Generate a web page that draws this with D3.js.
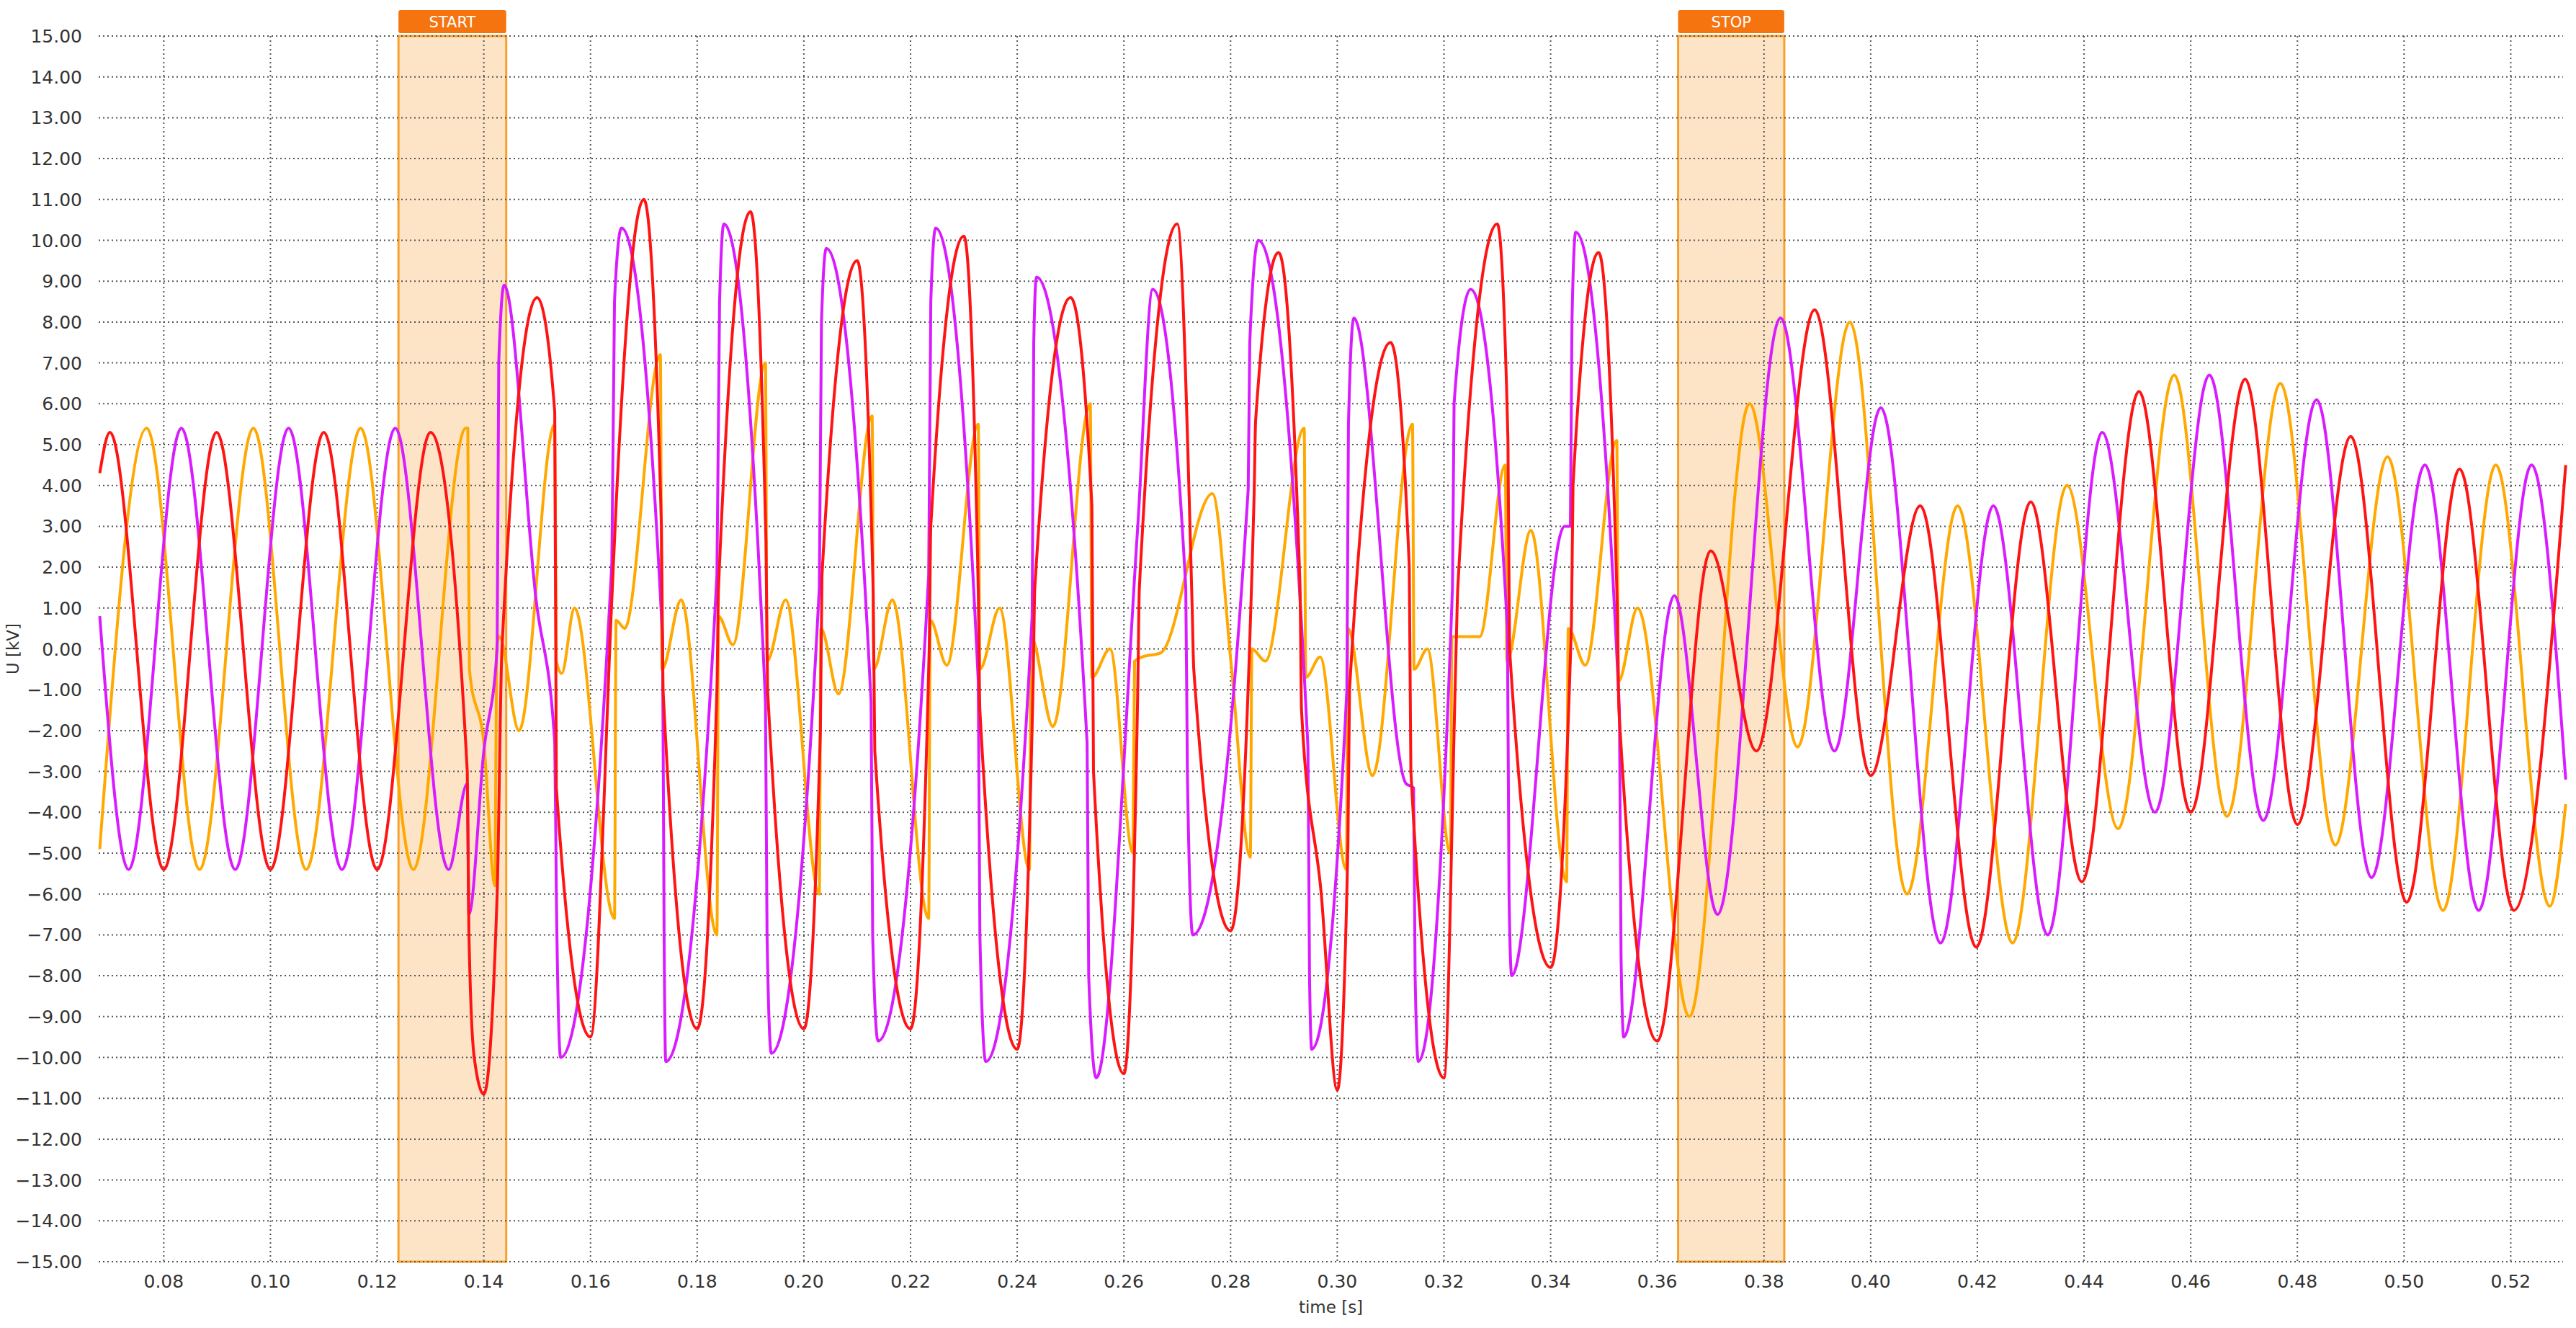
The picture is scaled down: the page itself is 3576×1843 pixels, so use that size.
<!DOCTYPE html>
<html>
<head>
<meta charset="utf-8">
<script src="https://cdn.jsdelivr.net/npm/d3@7"></script>
<style>
  body { margin: 0; background: #fff; }
  text { font-family: "DejaVu Sans", Verdana, sans-serif; fill: #333; }
</style>
</head>
<body>
<div class="chart"></div>
<script>
// phase voltages, [time s, kV]
var phaseRed = [
	[0.068, 4.3], [0.0699, 5.3], [0.08, -5.4], [0.0899, 5.3], [0.10, -5.4], [0.110, 5.3], [0.120, -5.4], [0.130, 5.3],
	[0.1369, -3.0], [0.1372, -6.9], [0.1382, -10.0], [0.14, -10.9], [0.1425, -6.0], [0.1434, 0], [0.150, 8.6],
	[0.1533, 5.8], [0.1536, -3.4], [0.160, -9.5], [0.164, 1.2], [0.1648, 3.5], [0.170, 11.0], [0.1733, 3.0], [0.1736, -1.0],
	[0.180, -9.3], [0.1837, -1.0], [0.184, 1.5], [0.190, 10.7], [0.1929, 2.6], [0.1932, -1.0], [0.200, -9.3],
	[0.2031, -2.0], [0.2034, 1.8], [0.210, 9.5], [0.213, 1.4], [0.2133, -2.5], [0.220, -9.3], [0.2235, 0.0], [0.2238, 3.0],
	[0.230, 10.1], [0.2327, 1.4], [0.233, -1.5], [0.240, -9.8], [0.243, -0.7], [0.2433, 1.5], [0.250, 8.6], [0.254, 3.5],
	[0.2543, -3.0], [0.260, -10.4], [0.2626, -1.0], [0.2629, 1.5], [0.270, 10.4], [0.2728, 1.0], [0.2731, -0.5], [0.280, -6.9],
	[0.2844, 3.7], [0.2847, 5.6], [0.289, 9.7], [0.293, 1.6], [0.2933, -1.5], [0.297, -6.0], [0.300, -10.8], [0.302, -4.8],
	[0.3023, -1.0], [0.310, 7.5], [0.3135, 2.0], [0.3138, -3.0], [0.320, -10.5], [0.3223, 0.1], [0.3226, 1.5], [0.330, 10.4],
	[0.332, 5.1], [0.3323, 0.0], [0.340, -7.8], [0.3439, 0.6], [0.3442, 4.0], [0.349, 9.7], [0.3525, 1.0], [0.3528, -1.5],
	[0.360, -9.6], [0.370, 2.4], [0.3786, -2.5], [0.3895, 8.3], [0.400, -3.1], [0.4093, 3.5], [0.4198, -7.3], [0.430, 3.6],
	[0.4396, -5.7], [0.4503, 6.3], [0.460, -4.0], [0.4702, 6.6], [0.480, -4.3], [0.490, 5.2], [0.5005, -6.2], [0.5104, 4.4],
	[0.5206, -6.4], [0.5303, 4.5]
];
var phaseMagenta = [
	[0.068, 0.8], [0.0734, -5.4], [0.0833, 5.4], [0.0934, -5.4], [0.1034, 5.4], [0.1134, -5.4], [0.1234, 5.4], [0.1334, -5.4],
	[0.1369, -3.3], [0.1372, -6.5], [0.14, -2.5], [0.1425, 0.0], [0.1428, 7.0], [0.1438, 8.9], [0.1498, 1.2], [0.1533, -2.3],
	[0.1536, -6.0], [0.1544, -10.0], [0.164, 2.1], [0.1645, 8.5], [0.1658, 10.3], [0.1735, 0.3], [0.1738, -7.0], [0.1741, -10.1],
	[0.1837, 1.8], [0.1842, 8.5], [0.185, 10.4], [0.1928, -1.3], [0.1931, -7.0], [0.1939, -9.9], [0.2029, 1.5], [0.2033, 8.0],
	[0.2042, 9.8], [0.2126, -1.3], [0.2129, -7.0], [0.2139, -9.6], [0.2234, 1.8], [0.2238, 8.5], [0.2247, 10.3], [0.2327, -0.8],
	[0.233, -7.0], [0.2341, -10.1], [0.2428, 0.8], [0.2431, 7.5], [0.2436, 9.1], [0.2531, -2.3], [0.2534, -8.0], [0.2548, -10.5],
	[0.2626, 3.0], [0.2654, 8.8], [0.2716, 1.5], [0.2719, -3.0], [0.2729, -7.0], [0.2833, 3.9], [0.2836, 7.5], [0.2852, 10.0],
	[0.2945, -2.4], [0.2948, -8.0], [0.2952, -9.8], [0.3018, -1.0], [0.3021, 5.5], [0.3031, 8.1], [0.3129, -3.3], [0.3143, -3.4],
	[0.3146, -8.0], [0.3152, -10.1], [0.3216, 1.5], [0.3219, 6.0], [0.325, 8.8], [0.3319, 0.5], [0.3322, -6.0], [0.3327, -8.0],
	[0.3426, 3.0], [0.3437, 3.0], [0.344, 8.0], [0.3447, 10.2], [0.3529, -1.5], [0.3532, -7.5], [0.3537, -9.5], [0.3632, 1.3],
	[0.3713, -6.5], [0.3831, 8.1], [0.3932, -2.5], [0.4019, 5.9], [0.4131, -7.2], [0.423, 3.5], [0.4332, -7.0], [0.4434, 5.3],
	[0.4533, -4.0], [0.4635, 6.7], [0.4736, -4.2], [0.4836, 6.1], [0.4939, -5.6], [0.5039, 4.5], [0.514, -6.4], [0.5239, 4.5],
	[0.5303, -3.2]
];
var phaseOrange = [
	[0.068, -4.9], [0.0768, 5.4], [0.0867, -5.4], [0.0968, 5.4], [0.1067, -5.4], [0.1169, 5.4], [0.1268, -5.4], [0.1366, 5.4],
	[0.1370, 5.4], [0.1373, -0.5], [0.14, -2.3], [0.1421, -5.8], [0.1424, 0.0], [0.1429, 0.3], [0.1466, -2.0], [0.1533, 5.5],
	[0.1536, -0.3], [0.1546, -0.6], [0.157, 1.0], [0.1645, -6.6], [0.1648, 0.7], [0.1664, 0.5], [0.1731, 7.2], [0.1734, -0.5],
	[0.177, 1.2], [0.1837, -7.0], [0.184, 0.8], [0.1867, 0.1], [0.1928, 7.0], [0.1931, -0.3], [0.1966, 1.2], [0.2029, -6.0],
	[0.2032, 0.5], [0.2065, -1.1], [0.2128, 5.7], [0.2131, -0.5], [0.2166, 1.2], [0.2234, -6.6], [0.2237, 0.7], [0.2268, -0.4],
	[0.2327, 5.5], [0.233, -0.5], [0.2367, 1.0], [0.2423, -5.4], [0.2426, 0.3], [0.2467, -1.9], [0.2537, 6.0], [0.254, -0.7],
	[0.2574, 0.0], [0.2617, -5.0], [0.262, -0.3], [0.2634, -0.2], [0.2669, -0.1], [0.2766, 3.8], [0.2802, -0.5], [0.2837, -5.1],
	[0.284, 0.0], [0.2865, -0.3], [0.2938, 5.4], [0.2941, -0.7], [0.2968, -0.2], [0.3017, -5.4], [0.302, 0.5], [0.3066, -3.1],
	[0.3141, 5.5], [0.3144, -0.5], [0.3169, 0.0], [0.3212, -5.0], [0.3215, 0.3], [0.3267, 0.3], [0.3315, 4.5], [0.3318, -0.3],
	[0.3363, 2.9], [0.343, -5.7], [0.3433, 0.5], [0.3465, -0.4], [0.3524, 5.1], [0.3527, -0.8], [0.3563, 1.0], [0.366, -9.0],
	[0.3773, 6.0], [0.3863, -2.4], [0.3961, 8.0], [0.4068, -6.0], [0.4163, 3.5], [0.4266, -7.2], [0.4368, 4.0], [0.4464, -4.4],
	[0.4569, 6.7], [0.4668, -4.1], [0.4768, 6.5], [0.4871, -4.8], [0.4969, 4.7], [0.5073, -6.4], [0.5172, 4.5], [0.5273, -6.3],
	[0.5303, -3.8]
];
var seriesColors = ["#ff1414", "#d81cff", "#ffa800"];
var markers = [
	{ label: "START", from: 0.1240, to: 0.1442 },
	{ label: "STOP", from: 0.3639, to: 0.3838 }
];
var xTicks = d3.range(0.08, 0.5201, 0.02);
var yTicks = d3.range(-15, 15.01, 1);

var W = 3576, H = 1843;
var margin = { left: 137, right: 18, top: 50, bottom: 92 };

var svg = d3.select(".chart").append("svg")
	.attr("width", W)
	.attr("height", H);

var x = d3.scaleLinear().domain([0.0678, 0.5298]).range([margin.left, W - margin.right]);
var y = d3.scaleLinear().domain([-15, 15]).range([H - margin.bottom, margin.top]);

// marker bands
var band = svg.selectAll("g.band")
	.data(markers)
	.enter()
	.append("g")
	.attr("class", "band");
band.append("rect")
	.attr("x", function(d) { return x(d.from); })
	.attr("y", y(15))
	.attr("width", function(d) { return x(d.to) - x(d.from); })
	.attr("height", y(-15) - y(15))
	.attr("fill", "#fde4c6")
	.attr("stroke", "#f9a02a")
	.attr("stroke-width", 3);
band.append("rect")
	.attr("x", function(d) { return x(d.from); })
	.attr("y", 14)
	.attr("width", function(d) { return x(d.to) - x(d.from); })
	.attr("height", 32)
	.attr("rx", 3)
	.attr("fill", "#f5740f");
band.append("text")
	.attr("x", function(d) { return (x(d.from) + x(d.to)) / 2; })
	.attr("y", 38)
	.attr("text-anchor", "middle")
	.attr("font-size", 21)
	.style("fill", "#fff")
	.text(function(d) { return d.label; });

// grid
svg.append("g").selectAll("line")
	.data(yTicks)
	.enter()
	.append("line")
	.attr("x1", margin.left).attr("x2", W - margin.right)
	.attr("y1", function(d) { return y(d); }).attr("y2", function(d) { return y(d); })
	.attr("stroke", "#555").attr("stroke-width", 2).attr("stroke-dasharray", "2,4");
svg.append("g").selectAll("line")
	.data(xTicks)
	.enter()
	.append("line")
	.attr("x1", function(d) { return x(d); }).attr("x2", function(d) { return x(d); })
	.attr("y1", y(15)).attr("y2", y(-15))
	.attr("stroke", "#555").attr("stroke-width", 2).attr("stroke-dasharray", "2,4");

// tick labels
svg.append("g").selectAll("text")
	.data(yTicks)
	.enter()
	.append("text")
	.attr("x", 114)
	.attr("y", function(d) { return y(d) + 9; })
	.attr("text-anchor", "end")
	.attr("font-size", 25)
	.text(function(d) { return d3.format(".2f")(d); });
svg.append("g").selectAll("text")
	.data(xTicks)
	.enter()
	.append("text")
	.attr("x", function(d) { return x(d); })
	.attr("y", H - margin.bottom + 36)
	.attr("text-anchor", "middle")
	.attr("font-size", 25)
	.text(function(d) { return d3.format(".2f")(d); });

svg.append("text")
	.attr("x", (margin.left + W - margin.right) / 2)
	.attr("y", 1822)
	.attr("text-anchor", "middle")
	.attr("font-size", 23)
	.text("time [s]");
svg.append("text")
	.attr("transform", "translate(26," + y(0) + ") rotate(-90)")
	.attr("text-anchor", "middle")
	.attr("font-size", 23)
	.text("U [kV]");

// traces
var line = d3.line()
	.x(function(d) { return x(d[0]); })
	.y(function(d) { return y(d[1]); })
	.curve(d3.curveMonotoneX);

svg.append("g").selectAll("path")
	.data([phaseOrange, phaseMagenta, phaseRed])
	.enter()
	.append("path")
	.attr("d", line)
	.attr("fill", "none")
	.attr("stroke", function(d, i) { return seriesColors[2 - i]; })
	.attr("stroke-width", 4)
	.attr("stroke-linejoin", "round");
</script>
</body>
</html>
